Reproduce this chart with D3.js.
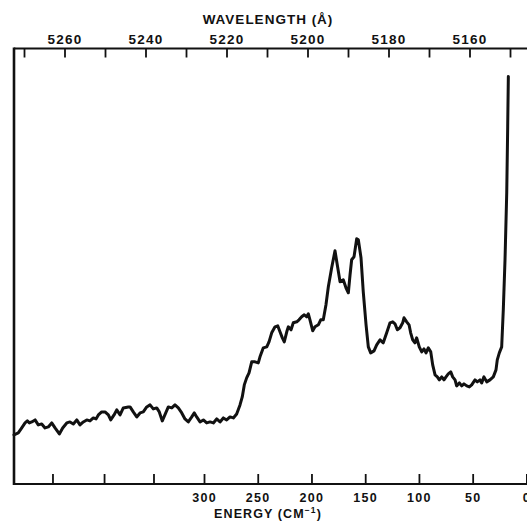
<!DOCTYPE html>
<html>
<head>
<meta charset="utf-8">
<script src="https://cdn.jsdelivr.net/npm/d3@7"></script>
<style>
  html, body { margin: 0; padding: 0; background: #fff; }
  svg { display: block; }
  text { font-family: "Liberation Sans", Arial, sans-serif; font-weight: bold; fill: #111; }
</style>
</head>
<body>
<svg id="chart" width="527" height="525"></svg>
<script>
// Raman-type spectrum: energy shift (cm^-1) vs intensity (arbitrary units)
const energy = [
  476.8,472.8,469.6,466.5,464.4,462.5,460.3,457.2,454.2,451.0,
  447.9,444.9,441.7,438.6,434.6,431.5,427.7,424.7,421.6,418.4,
  415.4,412.3,409.1,406.1,403.0,400.5,398.3,395.2,392.1,389.0,
  386.8,383.7,381.2,378.1,375.1,370.4,368.8,365.8,362.6,359.5,
  356.5,353.3,350.2,347.2,344.0,341.6,338.8,335.6,333.2,330.0,
  327.0,323.9,320.7,317.7,314.6,311.4,309.0,306.8,303.7,300.6,
  297.5,294.4,291.3,288.2,285.1,282.0,278.9,275.8,272.7,269.6,
  266.5,264.4,262.5,260.3,258.1,255.6,252.5,249.5,247.9,244.8,
  241.6,239.5,237.0,233.9,231.4,229.3,227.1,225.3,223.0,221.5,
  219.0,216.9,213.7,211.6,209.1,206.7,204.4,202.9,201.4,198.8,
  196.7,193.6,191.4,189.0,186.5,184.3,181.2,178.1,176.0,173.4,
  170.4,167.9,165.7,164.1,162.6,160.4,157.9,156.4,153.9,151.8,
  149.2,147.1,144.9,141.8,139.3,136.2,133.2,130.0,126.9,124.4,
  122.3,120.1,117.6,115.1,113.9,111.4,109.2,107.7,105.8,103.7,
  102.1,99.7,97.4,95.3,93.4,91.3,89.0,87.2,85.0,82.9,
  81.0,78.8,76.7,74.8,72.7,70.4,68.6,66.4,64.9,62.4,
  60.2,58.1,55.5,53.1,50.9,47.8,45.7,43.2,41.6,39.5,
  36.9,33.9,30.8,28.3,27.1,25.2,23.0,21.5,19.9,18.3,
  17.4,16.8
];
const intensity = [
  49,51,56,61,63,61,62,64,59,60,
  56,57,61,56,50,56,61,62,60,64,
  59,62,64,63,66,65,69,72,72,69,
  64,69,74,69,76,77,77,72,67,71,
  72,77,79,75,76,72,63,71,77,76,
  79,76,71,65,62,67,71,67,62,64,
  61,62,61,65,62,66,64,67,66,70,
  79,87,99,106,111,122,122,121,127,136,
  137,142,151,157,158,152,146,142,152,157,
  154,161,162,164,167,169,167,170,164,153,
  157,159,164,164,179,197,216,233,219,202,
  204,196,191,209,224,227,245,244,226,192,
  159,137,131,133,139,144,141,151,161,162,
  160,154,156,161,166,162,159,151,144,141,
  146,137,132,135,131,136,132,119,109,107,
  104,107,104,107,110,112,107,104,98,101,
  98,100,98,97,99,104,102,104,101,107,
  102,104,107,114,124,131,137,174,224,291,
  357,407
];
const energyLabelTicks = [300, 250, 200, 150, 100, 50, 0];
const energyMinorTicks = [441, 393, 347];
const wavelengthLabelTicks = [5260, 5240, 5220, 5200, 5180, 5160];
const wavelengthMinorTicks = [5270, 5250, 5230, 5210, 5190, 5170, 5150];
const topTitle = "WAVELENGTH (\u00C5)";
const bottomTitle = "ENERGY (CM";

(function () {
const svg = d3.select("#chart");
const padL = 14, padT = 48.5, padB = 484, padR = 540;

const xE = d3.scaleLinear().domain([0, 300]).range([526.4, 204]);
const xW = d3.scaleLinear().domain([5260, 5160]).range([64.5, 469.5]);
const yI = d3.scaleLinear().domain([0, 435]).range([padB, padT]);

// frame
svg.append("line").attr("x1", padL).attr("x2", padR).attr("y1", padT).attr("y2", padT)
  .attr("stroke", "#111").attr("stroke-width", 2);
svg.append("line").attr("x1", padL).attr("x2", padR).attr("y1", padB).attr("y2", padB)
  .attr("stroke", "#111").attr("stroke-width", 2);
svg.append("line").attr("x1", padL).attr("x2", padL).attr("y1", padT - 1).attr("y2", padB + 1)
  .attr("stroke", "#111").attr("stroke-width", 2.6);

// top wavelength axis (ticks pointing inward)
const wTicks = wavelengthLabelTicks.concat(wavelengthMinorTicks);
const topAxis = d3.axisTop(xW)
  .tickValues(wTicks)
  .tickSizeInner(-9).tickSizeOuter(0).tickPadding(5)
  .tickFormat(d => wavelengthLabelTicks.includes(d) ? String(d) : "");
const gt = svg.append("g").attr("transform", `translate(0,${padT})`).call(topAxis);
gt.select(".domain").remove();
gt.selectAll(".tick line").attr("stroke", "#111").attr("stroke-width", 1.8);
gt.selectAll(".tick text").attr("font-size", 13.5).attr("letter-spacing", 1.2)
  .attr("font-family", "Liberation Sans, Arial, sans-serif").attr("font-weight", "bold").attr("fill", "#111");

// bottom energy axis (ticks pointing inward)
const eTicks = energyLabelTicks.concat(energyMinorTicks);
const bottomAxis = d3.axisBottom(xE)
  .tickValues(eTicks)
  .tickSizeInner(-10).tickSizeOuter(0).tickPadding(9)
  .tickFormat(d => energyLabelTicks.includes(d) ? String(d) : "");
const gb = svg.append("g").attr("transform", `translate(0,${padB})`).call(bottomAxis);
gb.select(".domain").remove();
gb.selectAll(".tick line").attr("stroke", "#111").attr("stroke-width", 1.8);
gb.selectAll(".tick text").attr("font-size", 12.5).attr("letter-spacing", 1.3)
  .attr("font-family", "Liberation Sans, Arial, sans-serif").attr("font-weight", "bold").attr("fill", "#111");

// titles
svg.append("text").attr("x", 268).attr("y", 24).attr("text-anchor", "middle")
  .attr("font-size", 13.5).attr("letter-spacing", 1).text(topTitle);
const bt = svg.append("text").attr("x", 268).attr("y", 517.5).attr("text-anchor", "middle")
  .attr("font-size", 12.5).attr("letter-spacing", 1.1);
bt.append("tspan").text(bottomTitle);
bt.append("tspan").attr("font-size", 8.5).attr("dy", -5).text("\u22121");
bt.append("tspan").attr("dy", 5).text(")");

// spectrum trace
const data = energy.map((e, i) => ({ e, v: intensity[i] }));
const line = d3.line().x(d => xE(d.e)).y(d => yI(d.v));
svg.append("path").datum(data).attr("d", line)
  .attr("fill", "none").attr("stroke", "#111").attr("stroke-width", 3)
  .attr("stroke-linejoin", "round").attr("stroke-linecap", "round");
})();
</script>
</body>
</html>
